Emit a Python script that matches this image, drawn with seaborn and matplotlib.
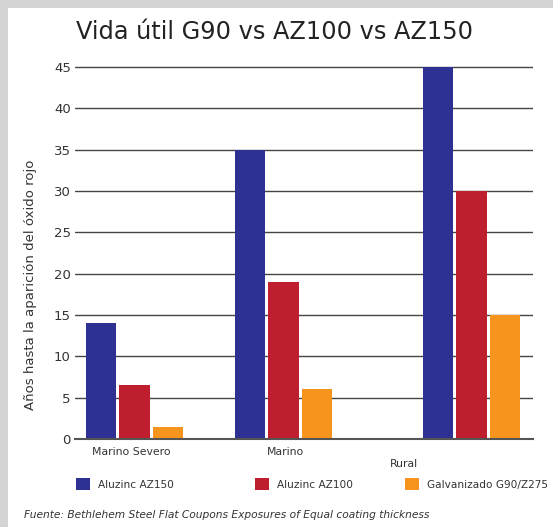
import matplotlib
matplotlib.use("Agg")
import matplotlib.pyplot as plt
import matplotlib.transforms as mtransforms
from matplotlib.patches import Rectangle
import seaborn as sns
import pandas as pd

# ---- data ----
categories = ["Marino Severo", "Marino", "Rural"]
series = ["Aluzinc AZ150", "Aluzinc AZ100", "Galvanizado G90/Z275"]
az150 = [14, 35, 45]
az100 = [6.5, 19, 30]
g90 = [1.5, 6, 15]
yticks = [0, 5, 10, 15, 20, 25, 30, 35, 40, 45]

title = "Vida útil G90 vs AZ100 vs AZ150"
ylabel = "Años hasta la aparición del óxido rojo"
footnote = "Fuente: Bethlehem Steel Flat Coupons Exposures of Equal coating thickness"

# ---- layout (group centres on a pixel-like native x scale) ----
group_pos = [134.5, 283.5, 471.5]
label_dx = [-3, 2, -68]      # horizontal offsets of category labels
label_dy = [0, 0, -12]       # vertical offsets (pixels) of category labels
colors = ["#2e3192", "#be1e2d", "#f7941d"]

rows = []
for vals, s in zip([az150, az100, g90], series):
    for c, p, v in zip(categories, group_pos, vals):
        rows.append({"cat": c, "pos": p, "series": s, "value": v})
df = pd.DataFrame(rows)

sns.set_style("white")
plt.rcParams["font.family"] = ["DejaVu Sans"]

W, H = 553, 527
fig = plt.figure(figsize=(W / 100, H / 100), dpi=100)
fig.patch.set_facecolor("#d4d4d4")
fig.patches.append(Rectangle((8 / W, 0), 1 - 8 / W, 1 - 8 / H,
                             transform=fig.transFigure, facecolor="white",
                             edgecolor="none", zorder=-5))

ymax = 45.3
px_per_unit = (439 - 67) / 45
top_px = 439 - ymax * px_per_unit
ax_h = 439 - top_px
ax = fig.add_axes([75 / W, (H - 439) / H, (533 - 75) / W, ax_h / H])
ax.set_facecolor("none")

sns.barplot(data=df, x="pos", y="value", hue="series", hue_order=series,
            palette=colors, native_scale=True, width=0.68, gap=0.11,
            saturation=1, linewidth=0, errorbar=None, ax=ax, zorder=3)

handles, labels = ax.get_legend_handles_labels()
if ax.legend_ is not None:
    ax.legend_.remove()

ax.set_xlim(75, 533)
ax.set_ylim(0, ymax)
ax.set_yticks(yticks)
ax.set_xticks([])
ax.set_xlabel("")
ax.set_ylabel(ylabel, fontsize=9.5, color="#333333")
ax.yaxis.set_label_coords((37 - 75) / 458, (439 - 285) / ax_h)
ax.tick_params(axis="y", length=0, pad=3, labelsize=9.5, labelcolor="#333333")
ax.yaxis.grid(True, color="#454545", linewidth=1.0, zorder=1)
ax.set_axisbelow(True)
for s in ["top", "right", "left"]:
    ax.spines[s].set_visible(False)
ax.spines["bottom"].set_color("#555555")
ax.spines["bottom"].set_linewidth(1.5)
ax.spines["bottom"].set_zorder(4)

# category labels
for c, p, dx, dy in zip(categories, group_pos, label_dx, label_dy):
    tr = mtransforms.blended_transform_factory(ax.transData, ax.transAxes)
    off = mtransforms.ScaledTranslation(0, dy / 100, fig.dpi_scale_trans)
    ax.text(p + dx, -13 / ax_h, c, transform=tr + off,
            ha="center", va="center", fontsize=7.8, color="#333333")

fig.text(275 / W, 1 - 32 / H, title, ha="center", va="center",
         fontsize=17.3, color="#222222")

# legend: one entry per placed legend
leg_x = [76, 255, 405]
for h, l, x in zip(handles, labels, leg_x):
    lg = fig.legend([h], [l], loc="center left",
                    bbox_to_anchor=(x / W, 1 - 484 / H), frameon=False,
                    fontsize=7.6, handlelength=1.33, handleheight=1.33,
                    handletextpad=0.75, borderpad=0, borderaxespad=0)
    for t in lg.get_texts():
        t.set_color("#333333")

fig.text(24 / W, 1 - 515 / H, footnote, ha="left", va="center",
         fontsize=7.7, style="italic", color="#333333")

fig.savefig("out.png", dpi=100, facecolor=fig.get_facecolor())
